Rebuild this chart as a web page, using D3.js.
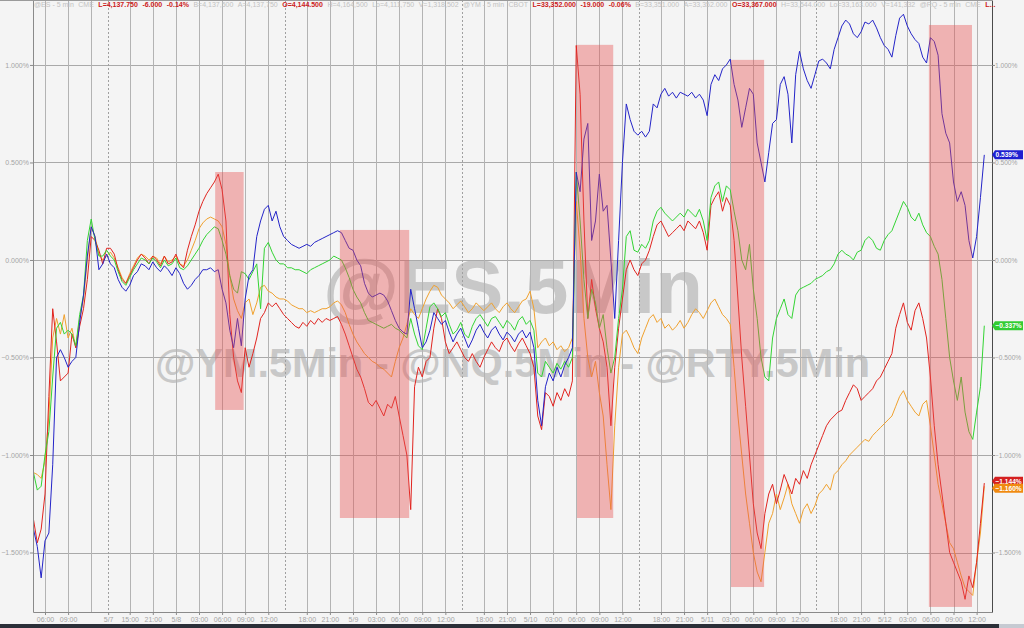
<!DOCTYPE html>
<html>
<head>
<meta charset="utf-8">
<script src="https://cdn.jsdelivr.net/npm/d3@7/dist/d3.min.js"></script>
<style>
html,body{margin:0;padding:0;background:#f4f4f4;overflow:hidden}
svg{display:block}
text{font-family:"Liberation Sans",Arial,sans-serif}
</style>
</head>
<body>
<svg id="chart" width="1024" height="628"></svg>
<script>
// ---------------- DATA ----------------
// time axis in session hours (0 = first 06:00), one value every half hour
const timeStart = -1.5;
const timeStep = 0.5;

// @NQ (blue) % change
const nq = [
-1.38,-1.47,-1.63,-1.44,-1.40,-1.05,-0.50,-0.46,-0.50,-0.55,
-0.52,-0.50,-0.32,-0.18,0.02,0.17,0.12,-0.05,-0.02,0.03,
-0.02,-0.04,-0.10,-0.14,-0.16,-0.13,-0.08,-0.06,-0.02,-0.03,
-0.05,-0.01,-0.04,-0.06,-0.03,-0.05,-0.08,-0.04,-0.07,-0.12,
-0.15,-0.13,-0.10,-0.08,-0.05,-0.05,-0.04,-0.06,-0.05,-0.15,
-0.22,-0.36,-0.45,-0.30,-0.44,-0.20,-0.08,-0.05,0.12,0.20,
0.26,0.28,0.20,0.25,0.17,0.12,0.10,0.08,0.07,0.06,
0.07,0.08,0.07,0.09,0.10,0.11,0.12,0.13,0.14,0.15,
0.14,0.10,0.06,0.05,0.00,-0.03,-0.12,-0.17,-0.19,-0.18,
-0.17,-0.18,-0.21,-0.26,-0.31,-0.35,-0.37,-0.38,-0.15,-0.25,
-0.35,-0.45,-0.42,-0.36,-0.27,-0.30,-0.33,-0.31,-0.37,-0.42,
-0.38,-0.35,-0.40,-0.45,-0.41,-0.36,-0.33,-0.37,-0.40,-0.36,
-0.34,-0.38,-0.41,-0.37,-0.39,-0.42,-0.38,-0.36,-0.40,-0.37,
-0.45,-0.72,-0.85,-0.65,-0.58,-0.62,-0.55,-0.60,-0.54,-0.50,
-0.45,0.45,0.35,0.62,0.70,0.10,0.20,0.44,0.25,0.28,
0.00,-0.30,0.10,0.50,0.80,0.72,0.66,0.64,0.66,0.63,
0.66,0.80,0.78,0.85,0.88,0.84,0.86,0.83,0.86,0.85,
0.84,0.86,0.83,0.85,0.82,0.74,0.90,0.95,0.92,0.98,
1.00,1.03,0.90,0.82,0.68,0.78,0.88,0.85,0.60,0.50,
0.40,0.55,0.70,0.72,0.90,0.94,0.85,0.60,0.95,1.07,
0.98,0.92,0.88,0.95,1.02,1.03,1.01,0.98,1.08,1.14,
1.20,1.23,1.21,1.16,1.14,1.17,1.22,1.21,1.23,1.19,
1.14,1.10,1.08,1.04,1.15,1.24,1.26,1.20,1.16,1.13,
1.11,1.04,1.01,1.14,1.12,1.05,0.75,0.65,0.60,0.40,
0.30,0.35,0.28,0.10,0.01,0.12,0.32,0.539
];

// @ES (green) % change
const es = [
-1.09,-1.18,-1.16,-1.00,-0.88,-0.60,-0.35,-0.32,-0.38,-0.36,
-0.38,-0.44,-0.28,-0.18,0.10,0.21,0.10,0.02,0.02,0.05,
0.02,0.00,-0.06,-0.11,-0.13,-0.09,-0.05,-0.02,0.01,0.00,
-0.02,0.01,-0.01,-0.04,0.00,-0.03,-0.02,0.01,-0.04,-0.05,
-0.03,0.00,0.03,0.06,0.10,0.13,0.15,0.17,0.16,0.10,
0.03,-0.08,-0.15,-0.17,-0.06,-0.07,-0.10,-0.06,-0.02,-0.25,
0.06,0.09,0.04,0.00,-0.02,-0.02,-0.04,-0.04,-0.05,-0.05,
-0.06,-0.07,-0.05,-0.04,-0.03,-0.02,-0.01,0.00,0.02,0.01,
0.00,-0.04,-0.09,-0.15,-0.19,-0.22,-0.27,-0.31,-0.32,-0.33,
-0.34,-0.35,-0.34,-0.33,-0.35,-0.36,-0.38,-0.40,-0.30,-0.38,
-0.44,-0.46,-0.35,-0.24,-0.22,-0.25,-0.29,-0.27,-0.33,-0.38,
-0.36,-0.32,-0.38,-0.40,-0.34,-0.30,-0.28,-0.31,-0.34,-0.30,
-0.29,-0.32,-0.35,-0.31,-0.33,-0.36,-0.31,-0.29,-0.33,-0.31,
-0.36,-0.58,-0.60,-0.52,-0.55,-0.58,-0.53,-0.56,-0.52,-0.55,
-0.50,0.45,0.20,-0.10,-0.30,-0.15,-0.22,-0.35,-0.28,-0.45,
-0.58,-0.50,-0.30,-0.15,0.12,0.15,0.05,0.04,0.08,0.06,
0.10,0.20,0.25,0.27,0.24,0.22,0.20,0.22,0.24,0.22,
0.26,0.24,0.22,0.26,0.20,0.10,0.32,0.38,0.40,0.30,
0.38,0.36,0.25,0.15,0.00,-0.05,0.08,-0.15,-0.30,-0.50,
-0.60,-0.62,-0.40,-0.30,-0.25,-0.20,-0.28,-0.30,-0.18,-0.15,
-0.14,-0.13,-0.12,-0.10,-0.09,-0.08,-0.06,-0.05,-0.02,0.03,
0.05,0.03,0.02,0.00,0.04,0.05,0.10,0.12,0.10,0.06,
0.05,0.10,0.13,0.15,0.20,0.25,0.30,0.27,0.22,0.20,
0.24,0.18,0.14,0.12,0.07,0.03,-0.10,-0.30,-0.50,-0.62,
-0.72,-0.60,-0.78,-0.88,-0.92,-0.78,-0.65,-0.337
];

// @YM (orange) % change
const ym = [
-1.09,-1.10,-1.12,-1.03,-0.80,-0.40,-0.30,-0.38,-0.28,-0.40,
-0.35,-0.45,-0.30,-0.20,0.00,0.17,0.12,0.03,0.00,0.02,
0.04,0.01,-0.04,-0.09,-0.12,-0.07,-0.03,0.01,0.03,0.02,
0.00,0.02,0.01,-0.02,0.02,-0.01,0.00,0.02,-0.02,-0.03,
0.00,0.05,0.10,0.16,0.19,0.21,0.22,0.21,0.20,0.17,
0.08,-0.08,-0.20,-0.26,-0.30,-0.22,-0.20,-0.28,-0.22,-0.14,
-0.13,-0.16,-0.17,-0.19,-0.20,-0.20,-0.21,-0.23,-0.24,-0.25,
-0.25,-0.27,-0.26,-0.27,-0.26,-0.25,-0.25,-0.24,-0.22,-0.21,
-0.23,-0.27,-0.33,-0.38,-0.42,-0.45,-0.48,-0.50,-0.52,-0.53,
-0.55,-0.56,-0.58,-0.60,-0.52,-0.45,-0.40,-0.33,-0.25,-0.28,
-0.30,-0.25,-0.20,-0.16,-0.13,-0.14,-0.18,-0.20,-0.22,-0.25,
-0.23,-0.21,-0.24,-0.27,-0.25,-0.22,-0.24,-0.26,-0.24,-0.22,
-0.25,-0.27,-0.24,-0.22,-0.25,-0.27,-0.24,-0.21,-0.20,-0.16,
-0.25,-0.45,-0.42,-0.40,-0.44,-0.42,-0.46,-0.44,-0.47,-0.45,
-0.40,0.30,0.05,-0.30,-0.50,-0.60,-0.52,-0.68,-0.80,-1.05,
-1.28,-0.85,-0.55,-0.38,-0.36,-0.40,-0.45,-0.48,-0.40,-0.35,
-0.30,-0.28,-0.32,-0.30,-0.35,-0.33,-0.36,-0.34,-0.31,-0.35,
-0.32,-0.28,-0.25,-0.27,-0.30,-0.26,-0.22,-0.20,-0.24,-0.28,
-0.30,-0.33,-0.55,-0.80,-1.00,-1.20,-1.35,-1.50,-1.60,-1.65,
-1.50,-1.35,-1.30,-1.20,-1.28,-1.22,-1.15,-1.25,-1.30,-1.35,
-1.28,-1.25,-1.30,-1.26,-1.20,-1.18,-1.15,-1.18,-1.10,-1.08,
-1.05,-1.03,-1.00,-0.98,-0.96,-0.94,-0.92,-0.93,-0.90,-0.88,
-0.86,-0.84,-0.82,-0.80,-0.75,-0.70,-0.67,-0.72,-0.75,-0.78,
-0.80,-0.74,-0.72,-0.85,-1.00,-1.15,-1.25,-1.35,-1.45,-1.48,
-1.55,-1.62,-1.68,-1.70,-1.72,-1.55,-1.40,-1.16
];

// @RTY (red) % change
const rty = [
-1.33,-1.45,-1.38,-1.20,-0.70,-0.25,-0.42,-0.62,-0.60,-0.58,
-0.38,-0.45,-0.34,-0.25,-0.10,0.12,0.10,0.05,-0.02,0.06,
0.06,0.03,-0.05,-0.10,-0.12,-0.08,-0.04,0.00,0.03,0.01,
-0.02,0.02,0.00,-0.03,0.02,-0.02,-0.01,0.03,-0.02,-0.04,
0.05,0.12,0.18,0.25,0.30,0.34,0.37,0.40,0.44,0.36,
0.20,-0.28,-0.50,-0.62,-0.68,-0.45,-0.55,-0.48,-0.40,-0.30,
-0.27,-0.22,-0.24,-0.22,-0.25,-0.28,-0.30,-0.32,-0.34,-0.35,
-0.32,-0.34,-0.31,-0.33,-0.30,-0.32,-0.30,-0.31,-0.30,-0.29,
-0.33,-0.38,-0.44,-0.50,-0.56,-0.60,-0.66,-0.73,-0.75,-0.72,
-0.76,-0.80,-0.74,-0.76,-0.70,-0.80,-0.90,-1.00,-1.28,-0.65,
-0.55,-0.60,-0.52,-0.50,-0.35,-0.25,-0.30,-0.42,-0.48,-0.45,
-0.42,-0.46,-0.50,-0.52,-0.48,-0.52,-0.55,-0.50,-0.46,-0.42,
-0.45,-0.47,-0.42,-0.40,-0.44,-0.47,-0.43,-0.40,-0.44,-0.48,
-0.55,-0.80,-0.87,-0.68,-0.70,-0.75,-0.68,-0.72,-0.66,-0.70,
-0.62,1.10,0.85,0.20,-0.30,-0.10,-0.25,-0.35,-0.42,-0.55,
-0.85,-0.55,-0.35,-0.20,-0.05,0.00,-0.05,-0.08,-0.02,0.00,
0.05,0.12,0.18,0.20,0.16,0.12,0.14,0.16,0.18,0.15,
0.20,0.18,0.16,0.20,0.14,0.05,0.28,0.32,0.35,0.25,
0.32,0.28,0.10,-0.20,-0.50,-0.75,-1.00,-1.25,-1.40,-1.48,
-1.30,-1.20,-1.15,-1.25,-1.18,-1.10,-1.15,-1.20,-1.12,-1.15,
-1.08,-1.12,-1.05,-1.00,-0.95,-0.90,-0.85,-0.82,-0.80,-0.78,
-0.77,-0.72,-0.68,-0.64,-0.66,-0.72,-0.70,-0.68,-0.66,-0.62,
-0.60,-0.56,-0.52,-0.48,-0.35,-0.28,-0.22,-0.32,-0.36,-0.26,
-0.22,-0.30,-0.40,-0.60,-0.85,-1.05,-1.20,-1.35,-1.50,-1.55,
-1.60,-1.65,-1.74,-1.62,-1.68,-1.55,-1.35,-1.144
];

// x axis ticks (session hours) and their labels
const xTickHours = [0,3,8.2,11,14,17,20,23,26,29,34,37,40,43,46,49,52,57,60,63,66,69,72,75,80,83,86,89,92,95,98,103,106,109,112,115,118,121];
const xTickLabels = ["06:00","09:00","5/7","15:00","21:00","5/8","03:00","06:00","09:00","12:00","18:00","21:00","5/9","03:00","06:00","09:00","12:00","18:00","21:00","5/10","03:00","06:00","09:00","12:00","18:00","21:00","5/11","03:00","06:00","09:00","12:00","18:00","21:00","5/12","03:00","06:00","09:00","12:00"];
const xExtraGridHours = [6];
const sessionBreakHours = [8.2, 31.2, 54.2, 77.2, 100.2];

// y axis ticks (%)
const yTickValues = [1.0, 0.5, 0.0, -0.5, -1.0, -1.5];

// highlighted periods (session hours and % range)
const highlightFrom = [22.1, 38.3, 69.1, 89.1, 114.8];
const highlightTo = [25.8, 47.3, 73.8, 93.4, 120.4];
const highlightHigh = [0.451, 0.154, 1.103, 1.026, 1.205];
const highlightLow = [-0.769, -1.323, -1.323, -1.677, -1.779];

// header status line
const headerParts = ["@ES - 5 min","CME","L=4,137.750","-6.000","-0.14%","B=4,137,500","A=4,137,750","O=4,144.500","H=4,164,500","Lo=4,111,750","V=1,318,502","@YM - 5 min","CBOT","L=33,352.000","-19.000","-0.06%","B=33,351.000","A=33,352.000","O=33,367.000","H=33,544.000","Lo=33,163.000","V=141,332","@RQ - 5 min","CME","L..."];
const headerHot = [0,0,1,1,1,0,0,1,0,0,0,0,0,1,1,1,0,0,1,0,0,0,0,0,1];

// watermark texts
const watermarkMain = "@ES.5Min";
const watermarkSub = "@YM.5Min - @NQ.5Min - @RTY.5Min";

// ---------------- DRAW ----------------
const W = 1024, H = 628;
const plot = {left: 33, right: 992, top: 0, bottom: 612};
const x = d3.scaleLinear().domain([-1.56, 123.0]).range([plot.left, plot.right]);
const y = d3.scaleLinear().domain([-1.805, 1.333]).range([plot.bottom, plot.top]);
const tOf = i => timeStart + i * timeStep;

const svg = d3.select("#chart");
svg.append("rect").attr("width", W).attr("height", H).attr("fill", "#f4f4f4");

// watermark
svg.append("text").attr("x", 323).attr("y", 313)
  .attr("font-size", 76).attr("font-weight", "bold").attr("fill", "#c8c8c8")
  .attr("textLength", 380).attr("lengthAdjust", "spacingAndGlyphs").text(watermarkMain);
svg.append("text").attr("x", 155).attr("y", 377)
  .attr("font-size", 40).attr("font-weight", "bold").attr("fill", "#c8c8c8")
  .attr("textLength", 715).attr("lengthAdjust", "spacingAndGlyphs").text(watermarkSub);

// grid
const grid = svg.append("g");
grid.selectAll("line.h").data(yTickValues).join("line").attr("class", "h")
  .attr("x1", plot.left).attr("x2", plot.right)
  .attr("y1", d => Math.round(y(d)) + 0.5).attr("y2", d => Math.round(y(d)) + 0.5)
  .attr("stroke", "#a9a9a9").attr("stroke-width", 1);
const solidV = xTickHours.filter(h => !sessionBreakHours.includes(h)).concat(xExtraGridHours);
grid.selectAll("line.v").data(solidV).join("line").attr("class", "v")
  .attr("x1", d => Math.round(x(d)) + 0.5).attr("x2", d => Math.round(x(d)) + 0.5)
  .attr("y1", plot.top).attr("y2", plot.bottom)
  .attr("stroke", "#b3b3b3").attr("stroke-width", 1);
grid.selectAll("line.s").data(sessionBreakHours).join("line").attr("class", "s")
  .attr("x1", d => Math.round(x(d)) + 0.5).attr("x2", d => Math.round(x(d)) + 0.5)
  .attr("y1", plot.top).attr("y2", plot.bottom)
  .attr("stroke", "#a0a0a0").attr("stroke-width", 1).attr("stroke-dasharray", "2,2");

// lines
svg.append("clipPath").attr("id", "clip").append("rect")
  .attr("x", plot.left).attr("y", plot.top).attr("width", plot.right - plot.left).attr("height", plot.bottom - plot.top);
const series = [
  {values: ym, color: "#f0a12e"},
  {values: rty, color: "#e1241f"},
  {values: es, color: "#33d433"},
  {values: nq, color: "#2424c8"}
];
const line = d3.line().x((d, i) => x(tOf(i))).y(d => y(d));
const lg = svg.append("g").attr("clip-path", "url(#clip)");
series.forEach(s => {
  lg.append("path").datum(s.values).attr("d", line)
    .attr("fill", "none").attr("stroke", s.color).attr("stroke-width", 1).attr("stroke-linejoin", "round");
});

// highlight boxes
svg.append("g").selectAll("rect").data(highlightFrom).join("rect")
  .attr("x", (d, i) => x(d)).attr("width", (d, i) => x(highlightTo[i]) - x(d))
  .attr("y", (d, i) => y(highlightHigh[i])).attr("height", (d, i) => y(highlightLow[i]) - y(highlightHigh[i]))
  .attr("fill", "rgb(232,80,80)").attr("fill-opacity", 0.4);

// axes
const fmtPct = d => d3.format(".3f")(d) + "%";
const axisStyle = (g, domainColor) => {
  g.select(".domain").attr("stroke", domainColor);
  g.selectAll(".tick line").attr("stroke", "#8a8a8a");
  g.selectAll(".tick text").attr("fill", "#a4a4a4").attr("font-size", "7px")
    .attr("font-family", "'Liberation Sans',Arial,sans-serif");
};
svg.append("g").attr("transform", `translate(0,${plot.bottom})`)
  .call(d3.axisBottom(x).tickValues(xTickHours).tickFormat((d, i) => xTickLabels[i]).tickSize(3).tickPadding(2).tickSizeOuter(0))
  .call(g => axisStyle(g, "#8a8a8a"));
svg.append("g").attr("transform", `translate(${plot.left},0)`)
  .call(d3.axisLeft(y).tickValues(yTickValues).tickFormat(fmtPct).tickSize(3).tickPadding(1).tickSizeOuter(0))
  .call(g => axisStyle(g, "#8a8a8a"));
svg.append("g").attr("transform", `translate(${plot.right},0)`)
  .call(d3.axisRight(y).tickValues(yTickValues).tickFormat(fmtPct).tickSize(3).tickPadding(0).tickSizeOuter(0))
  .call(g => axisStyle(g, "#4a4a4a"))
  .call(g => g.selectAll(".tick text").attr("font-size", "6.6px"));

// last-value labels
const lastLabels = [
  {v: nq[nq.length - 1], fill: "#1f1fd0"},
  {v: es[es.length - 1], fill: "#33cc33"},
  {v: rty[rty.length - 1], fill: "#d42020"},
  {v: ym[ym.length - 1], fill: "#f08a10"}
].map(d => ({...d, cy: y(d.v)}));
const sorted = lastLabels.slice().sort((a, b) => a.cy - b.cy);
for (let k = 1; k < sorted.length; k++) {
  if (sorted[k].cy - sorted[k - 1].cy < 7) {
    const mid = (sorted[k].cy + sorted[k - 1].cy) / 2;
    sorted[k - 1].cy = mid - 3.5; sorted[k].cy = mid + 3.5;
  }
}
const lab = svg.append("g").selectAll("g").data(lastLabels).join("g");
lab.append("path").attr("d", d => `M${plot.right},${d.cy} L${plot.right + 3},${d.cy - 4.5} L${plot.right + 31},${d.cy - 4.5} L${plot.right + 31},${d.cy + 4.5} L${plot.right + 3},${d.cy + 4.5} Z`)
  .attr("fill", d => d.fill);
lab.append("text").attr("x", plot.right + 3.5).attr("y", d => d.cy + 2.4)
  .attr("font-size", "6.6px").attr("font-weight", "bold").attr("fill", "#ffffff")
  .text(d => fmtPct(d.v));

// header
svg.append("line").attr("x1", 0).attr("x2", plot.right).attr("y1", 0.5).attr("y2", 0.5).attr("stroke", "#9a9a9a");
const header = svg.append("text").attr("x", plot.left + 1).attr("y", 7).attr("font-size", "7px");
headerParts.forEach((t, i) => {
  header.append("tspan").attr("dx", i === 0 ? 0 : 4.5)
    .attr("fill", headerHot[i] ? "#cc2020" : "#c2c2c2")
    .attr("font-weight", headerHot[i] ? "bold" : "normal")
    .text(t);
});

// bottom status bar
svg.append("rect").attr("x", 0).attr("y", 624).attr("width", W).attr("height", 4).attr("fill", "#2b2f38");
svg.append("rect").attr("x", 999).attr("y", 624).attr("width", 25).attr("height", 4).attr("fill", "#c6cad2");
</script>
</body>
</html>
